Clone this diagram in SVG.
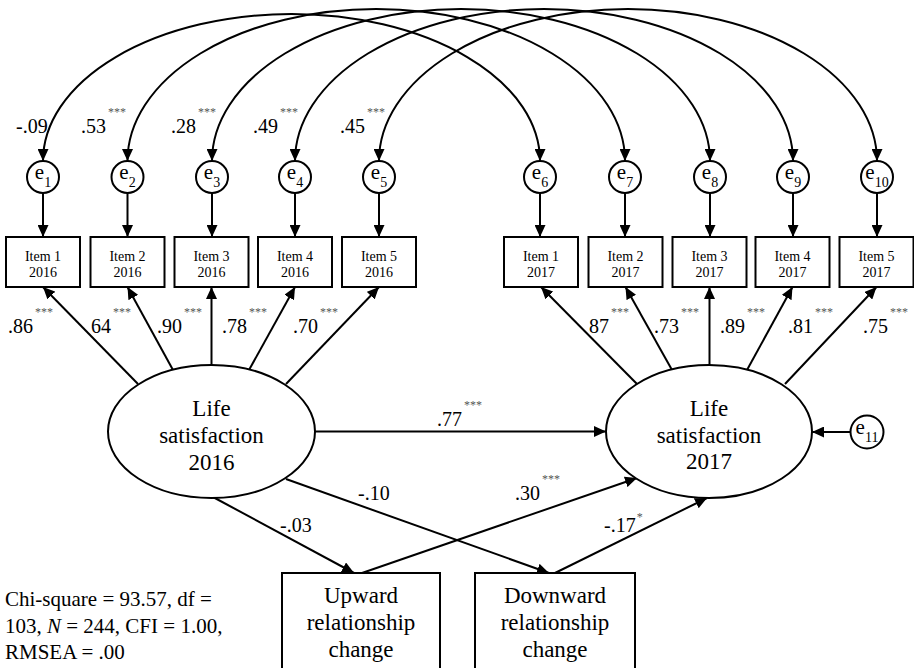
<svg xmlns="http://www.w3.org/2000/svg" width="914" height="668" viewBox="0 0 914 668">
<style>
text{font-family:"Liberation Serif","Times New Roman",serif;fill:#000}
.big{font-size:23px;text-anchor:middle}
.item{font-size:14px;text-anchor:middle}
.lab{font-size:20px}
.sup{font-size:12px;fill:#555}
.err{font-size:21px;text-anchor:middle}
.sub{font-size:14px}
.fit{font-size:21px}
.shape{fill:#fff;stroke:#000;stroke-width:2}
.c{fill:none;stroke:#000;stroke-width:2;marker-end:url(#ah)}
.cc{fill:none;stroke:#000;stroke-width:2;marker-end:url(#ah);marker-start:url(#ahs)}
</style>
<defs>
<marker id="ah" markerUnits="userSpaceOnUse" markerWidth="12" markerHeight="11" refX="12" refY="5.5" orient="auto"><path d="M0,0 L12,5.5 L0,11 z" fill="#000"/></marker>
<marker id="ahs" markerUnits="userSpaceOnUse" markerWidth="12" markerHeight="11" refX="12" refY="5.5" orient="auto-start-reverse"><path d="M0,0 L12,5.5 L0,11 z" fill="#000"/></marker>
</defs>
<rect width="914" height="668" fill="#fff"/>
<g id="connectors">
<path class="cc" d="M43,161 A248.5,147 0 0 1 540,161"/>
<path class="cc" d="M127.5,161 A248.75,152 0 0 1 625,161"/>
<path class="cc" d="M212,161 A249,152 0 0 1 710,161"/>
<path class="cc" d="M295,161 A249,152 0 0 1 793,161"/>
<path class="cc" d="M379,161 A249,152 0 0 1 877,161"/>
<path class="c" d="M43,193 L43,237"/>
<path class="c" d="M127.5,193 L127.5,237"/>
<path class="c" d="M212,193 L212,237"/>
<path class="c" d="M295,193 L295,237"/>
<path class="c" d="M379,193 L379,237"/>
<path class="c" d="M540,193 L540,237"/>
<path class="c" d="M625,193 L625,237"/>
<path class="c" d="M710,193 L710,237"/>
<path class="c" d="M793,193 L793,237"/>
<path class="c" d="M877,193 L877,237"/>
<path class="c" d="M138,384 L43,287"/>
<path class="c" d="M173,370 L127.5,287"/>
<path class="c" d="M211.5,365 L211.5,287"/>
<path class="c" d="M249,370 L295,287"/>
<path class="c" d="M286,384 L379,287"/>
<path class="c" d="M637,384 L541,287"/>
<path class="c" d="M672,370 L625.5,287"/>
<path class="c" d="M709.5,365 L709.5,287"/>
<path class="c" d="M747,370 L792.5,287"/>
<path class="c" d="M785,384 L876.5,287"/>
<path class="c" d="M315,431.5 L606,431.5"/>
<path class="c" d="M850,432 L812,432"/>
<path class="c" d="M213,497 L354,573"/>
<path class="c" d="M286,479 L549,573"/>
<path class="c" d="M362,573 L637,478"/>
<path class="c" d="M555,573 L707,498"/>
</g>
<g id="labels">
<text class="lab" x="16" y="133">-.09</text>
<text class="lab" x="81" y="133">.53<tspan class="sup" dx="2" dy="-17">***</tspan></text>
<text class="lab" x="171" y="133">.28<tspan class="sup" dx="2" dy="-17">***</tspan></text>
<text class="lab" x="253" y="133">.49<tspan class="sup" dx="2" dy="-17">***</tspan></text>
<text class="lab" x="340" y="133">.45<tspan class="sup" dx="2" dy="-17">***</tspan></text>
<text class="lab" x="8" y="333">.86<tspan class="sup" dx="2" dy="-17">***</tspan></text>
<text class="lab" x="91" y="333">64<tspan class="sup" dx="2" dy="-17">***</tspan></text>
<text class="lab" x="157" y="333">.90<tspan class="sup" dx="2" dy="-17">***</tspan></text>
<text class="lab" x="222" y="333">.78<tspan class="sup" dx="2" dy="-17">***</tspan></text>
<text class="lab" x="293" y="333">.70<tspan class="sup" dx="2" dy="-17">***</tspan></text>
<text class="lab" x="589" y="333">87<tspan class="sup" dx="2" dy="-17">***</tspan></text>
<text class="lab" x="654" y="333">.73<tspan class="sup" dx="2" dy="-17">***</tspan></text>
<text class="lab" x="720" y="333">.89<tspan class="sup" dx="2" dy="-17">***</tspan></text>
<text class="lab" x="788" y="333">.81<tspan class="sup" dx="2" dy="-17">***</tspan></text>
<text class="lab" x="863" y="333">.75<tspan class="sup" dx="2" dy="-17">***</tspan></text>
<text class="lab" x="437" y="426">.77<tspan class="sup" dx="2" dy="-17">***</tspan></text>
<text class="lab" x="358" y="500">-.10</text>
<text class="lab" x="515" y="500">.30<tspan class="sup" dx="2" dy="-17">***</tspan></text>
<text class="lab" x="280" y="532">-.03</text>
<text class="lab" x="604" y="532">-.17<tspan class="sup" dx="1" dy="-11">*</tspan></text>
</g>
<g id="e1"><circle class="shape" cx="43" cy="177" r="16"/><text class="err" x="43" y="179">e<tspan class="sub" dy="8">1</tspan></text></g>
<g id="e2"><circle class="shape" cx="127.5" cy="177" r="16"/><text class="err" x="127.5" y="179">e<tspan class="sub" dy="8">2</tspan></text></g>
<g id="e3"><circle class="shape" cx="212" cy="177" r="16"/><text class="err" x="212" y="179">e<tspan class="sub" dy="8">3</tspan></text></g>
<g id="e4"><circle class="shape" cx="295" cy="177" r="16"/><text class="err" x="295" y="179">e<tspan class="sub" dy="8">4</tspan></text></g>
<g id="e5"><circle class="shape" cx="379" cy="177" r="16"/><text class="err" x="379" y="179">e<tspan class="sub" dy="8">5</tspan></text></g>
<g id="e6"><circle class="shape" cx="540" cy="177" r="16"/><text class="err" x="540" y="179">e<tspan class="sub" dy="8">6</tspan></text></g>
<g id="e7"><circle class="shape" cx="625" cy="177" r="16"/><text class="err" x="625" y="179">e<tspan class="sub" dy="8">7</tspan></text></g>
<g id="e8"><circle class="shape" cx="710" cy="177" r="16"/><text class="err" x="710" y="179">e<tspan class="sub" dy="8">8</tspan></text></g>
<g id="e9"><circle class="shape" cx="793" cy="177" r="16"/><text class="err" x="793" y="179">e<tspan class="sub" dy="8">9</tspan></text></g>
<g id="e10"><circle class="shape" cx="877" cy="177" r="16"/><text class="err" x="877" y="179">e<tspan class="sub" dy="8">10</tspan></text></g>
<g id="e11"><circle class="shape" cx="867" cy="432" r="16.5"/><text class="err" x="867" y="434">e<tspan class="sub" dy="8">11</tspan></text></g>
<g id="item1_2016"><rect class="shape" x="6" y="237" width="74" height="50"/><text class="item" x="43" y="261">Item 1</text><text class="item" x="43" y="277">2016</text></g>
<g id="item2_2016"><rect class="shape" x="90.5" y="237" width="74" height="50"/><text class="item" x="127.5" y="261">Item 2</text><text class="item" x="127.5" y="277">2016</text></g>
<g id="item3_2016"><rect class="shape" x="174.5" y="237" width="74" height="50"/><text class="item" x="211.5" y="261">Item 3</text><text class="item" x="211.5" y="277">2016</text></g>
<g id="item4_2016"><rect class="shape" x="258" y="237" width="74" height="50"/><text class="item" x="295" y="261">Item 4</text><text class="item" x="295" y="277">2016</text></g>
<g id="item5_2016"><rect class="shape" x="342" y="237" width="74" height="50"/><text class="item" x="379" y="261">Item 5</text><text class="item" x="379" y="277">2016</text></g>
<g id="item1_2017"><rect class="shape" x="504" y="237" width="74" height="50"/><text class="item" x="541" y="261">Item 1</text><text class="item" x="541" y="277">2017</text></g>
<g id="item2_2017"><rect class="shape" x="588.5" y="237" width="74" height="50"/><text class="item" x="625.5" y="261">Item 2</text><text class="item" x="625.5" y="277">2017</text></g>
<g id="item3_2017"><rect class="shape" x="672.5" y="237" width="74" height="50"/><text class="item" x="709.5" y="261">Item 3</text><text class="item" x="709.5" y="277">2017</text></g>
<g id="item4_2017"><rect class="shape" x="755.5" y="237" width="74" height="50"/><text class="item" x="792.5" y="261">Item 4</text><text class="item" x="792.5" y="277">2017</text></g>
<g id="item5_2017"><rect class="shape" x="839.5" y="237" width="74" height="50"/><text class="item" x="876.5" y="261">Item 5</text><text class="item" x="876.5" y="277">2017</text></g>
<g id="ls2016"><ellipse class="shape" cx="211.5" cy="431.5" rx="103.5" ry="66.5"/><text class="big" x="211.5" y="416">Life</text><text class="big" x="211.5" y="443">satisfaction</text><text class="big" x="211.5" y="470">2016</text></g>
<g id="ls2017"><ellipse class="shape" cx="709" cy="431.5" rx="103" ry="66.5"/><text class="big" x="709" y="416">Life</text><text class="big" x="709" y="443">satisfaction</text><text class="big" x="709" y="469">2017</text></g>
<g id="upward"><rect class="shape" x="282" y="573" width="158" height="120"/><text class="big" x="361" y="603">Upward</text><text class="big" x="361" y="630">relationship</text><text class="big" x="361" y="657">change</text></g>
<g id="downward"><rect class="shape" x="475" y="573" width="160" height="120"/><text class="big" x="555" y="603">Downward</text><text class="big" x="555" y="630">relationship</text><text class="big" x="555" y="657">change</text></g>
<g id="fit"><text class="fit" x="5" y="606">Chi-square = 93.57, df =</text><text class="fit" x="5" y="633">103, <tspan font-style="italic">N</tspan> = 244, CFI = 1.00,</text><text class="fit" x="5" y="659">RMSEA = .00</text></g>
</svg>
